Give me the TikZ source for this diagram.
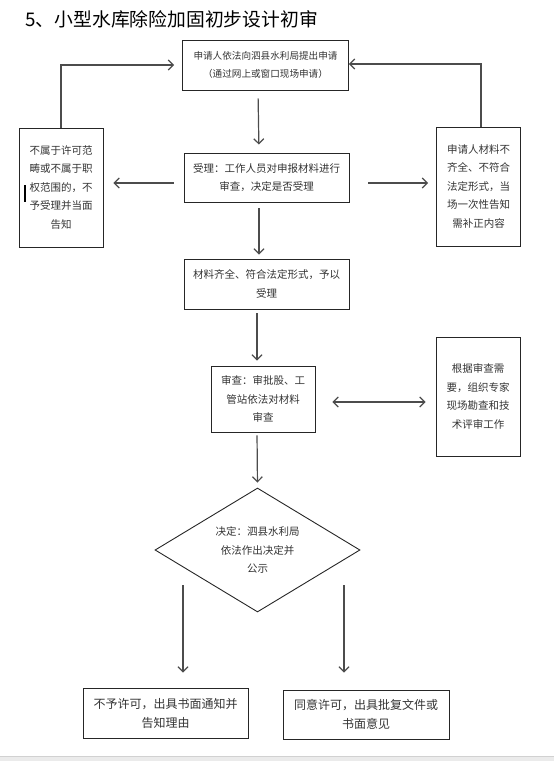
\documentclass[tikz,border=0pt]{standalone}
\usepackage{fontspec}
\setmainfont{Noto Sans CJK SC}
\usetikzlibrary{calc, shapes, arrows, arrows.meta}

\begin{document}
\begin{tikzpicture}[x=1pt,y=-1pt,>={Straight Barb[length=5pt,width=10pt]}]
\tikzstyle{box}=[draw=black!85,line width=0.9pt,inner sep=0pt,align=center,text=black!80,font=\fontsize{10.5}{18.5}\selectfont]
\tikzstyle{tall}=[box,minimum width=84pt,minimum height=119pt]
\tikzstyle{wide}=[box,minimum width=166pt,minimum height=50pt]
\tikzstyle{link}=[->,draw=black!70,line width=1.2pt]
\useasboundingbox (0,0) rectangle (554,761);
\fill[black!8] (0,756) rectangle (554,761);
\draw[black!18] (0,756) -- (554,756);
\node[anchor=west,font=\fontsize{18.8}{19}\selectfont] (T) at (22,19) {5、小型水库除险加固初步设计初审};
\node[wide,font=\fontsize{9.6}{18}\selectfont] (B_1) at (265.5,65) {申请人依法向泗县水利局提出申请\\（通过网上或窗口现场申请）};
\node[wide,minimum width=165pt,minimum height=49pt] (B_2) at (266.5,177.5) {受理：工作人员对申报材料进行\\审查，决定是否受理};
\node[tall] (L) at (61,187.5) {不属于许可范\\畴或不属于职\\权范围的，不\\予受理并当面\\告知};
\node[tall] (R) at (478.5,186.5) {申请人材料不\\齐全、不符合\\法定形式，当\\场一次性告知\\需补正内容};
\node[wide,minimum width=165pt] (B_3) at (266.5,284) {材料齐全、符合法定形式，予以\\受理};
\node[box,minimum width=104pt,minimum height=66pt] (B_4) at (263,399) {审查：审批股、工\\管站依法对材料\\审查};
\node[tall] (E) at (478,396.5) {根据审查需\\要，组织专家\\现场勘查和技\\术评审工作};
\node[box,diamond,aspect=1.65,minimum width=205pt,minimum height=124pt] (D) at (257.5,550) {决定：泗县水利局\\依法作出决定并\\公示};
\node[wide,minimum width=165pt,font=\fontsize{12}{19}\selectfont] (B_6) at (165.5,713) {不予许可，出具书面通知并\\告知理由};
\node[wide,minimum height=49pt,font=\fontsize{12}{19}\selectfont] (B_7) at (366,714.5) {同意许可，出具批复文件或\\书面意见};
\coordinate (D_l) at (183,585);
\coordinate (D_r) at (344,585);
% main line
\draw[link,shorten <=8pt,shorten >=8pt] ([xshift=-7.5pt]B_1.south) -- ([xshift=-7.5pt]B_2.north);
\draw[link,shorten <=6pt,shorten >=4pt] ([xshift=-7.5pt]B_2.south) -- ([xshift=-7.5pt]B_3.north);
\draw[link,shorten <=4pt,shorten >=5pt] ([xshift=-9.5pt]B_3.south) -- ([xshift=-9.5pt]B_3.south |- B_4.north);
\draw[link,shorten <=3pt,shorten >=5pt] ([xshift=-6pt]B_4.south) -- (D.north);
\draw[link,shorten >=15pt] (D_l) -- (D_l |- B_6.north);
\draw[link,shorten >=17pt] (D_r) -- (D_r |- B_7.north);
% side branches
\draw[link,shorten <=10pt,shorten >=10pt] ([yshift=-5.5pt]B_2.west) -- ([yshift=-5.5pt]B_2.west -| L.east);
\draw[link,shorten <=19pt,shorten >=8pt] ([yshift=-5.5pt]B_2.east) -- ([yshift=-5.5pt]B_2.east -| R.west);
\draw[link,<->,shorten <=17pt,shorten >=10pt] ([yshift=-3pt]B_4.east) -- ([yshift=-3pt]B_4.east -| E.west);
\draw[link,shorten >=8pt] (L.north) |- (B_1.west);
\draw[link] ([xshift=2.5pt]R.north) |- ([yshift=1pt]B_1.east);
\draw[line width=1.6pt] (25,185) -- (25,202);
\end{tikzpicture}
\end{document}
